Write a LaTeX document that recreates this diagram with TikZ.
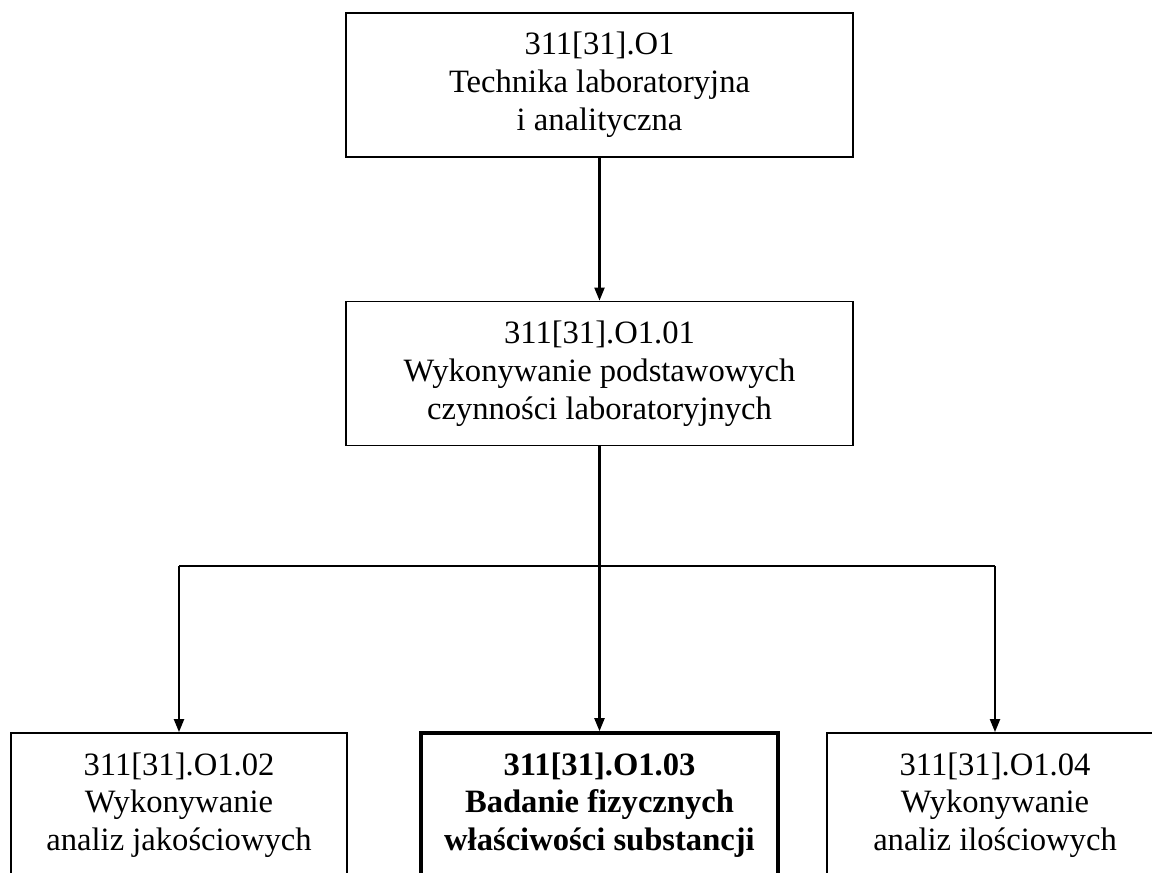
\documentclass[tikz,border=0pt]{standalone}
\usepackage{fontspec}
\setmainfont{Liberation Serif}
\usetikzlibrary{positioning, arrows.meta}

\begin{document}
\begin{tikzpicture}[
			x=1pt,
			y=1pt,
			on grid,
			font=\fontsize{16.3}{18.9}\selectfont,
			unit/.style={
				draw,
				rectangle,
				line width=0.9pt,
				align=center,
				inner sep=0pt,
				minimum height=72pt
			},
			wideunit/.style={
				unit,
				minimum width=253.5pt
			},
			leafunit/.style={
				unit,
				minimum width=168pt
			},
			mainunit/.style={
				unit,
				minimum width=178.5pt,
				line width=1.8pt,
				font=\fontsize{16.3}{18.9}\selectfont\bfseries
			},
			joint/.style={
				draw,
				line width=1.05pt
			},
			link/.style={
				joint,
				-{Triangle[length=6.5pt,width=5pt]}
			}
			]
			% Frame
			\useasboundingbox (0,0) rectangle (576,-436.5);
			\clip (0,0) rectangle (576,-436.5);
			
			% Units
			\node[wideunit] (o1) at (299.75,-42.5) {311[31].O1\\Technika laboratoryjna\\i analityczna};
			\node[wideunit] (o101) [below=144.25pt of o1] {311[31].O1.01\\Wykonywanie podstawowych\\czynności laboratoryjnych};
			\node[mainunit] (o103) [below=215.75pt of o101] {311[31].O1.03\\Badanie fizycznych\\właściwości substancji};
			\node[leafunit] (o102) [left=210.25pt of o103] {311[31].O1.02\\Wykonywanie\\analiz jakościowych};
			\node[leafunit] (o104) [right=197.75pt of o103] {311[31].O1.04\\Wykonywanie\\analiz ilościowych};
			
			% Links
			\coordinate[below=60pt of o101.south] (split);
			\draw[link] (o1) -- (o101);
			\draw[joint] (o101) -- (split);
			\draw[joint] (o102 |- split) -- (o104 |- split);
			\draw[link] (o102 |- split) -- (o102);
			\draw[link] (split) -- (o103);
			\draw[link] (o104 |- split) -- (o104);
		\end{tikzpicture}
\end{document}
